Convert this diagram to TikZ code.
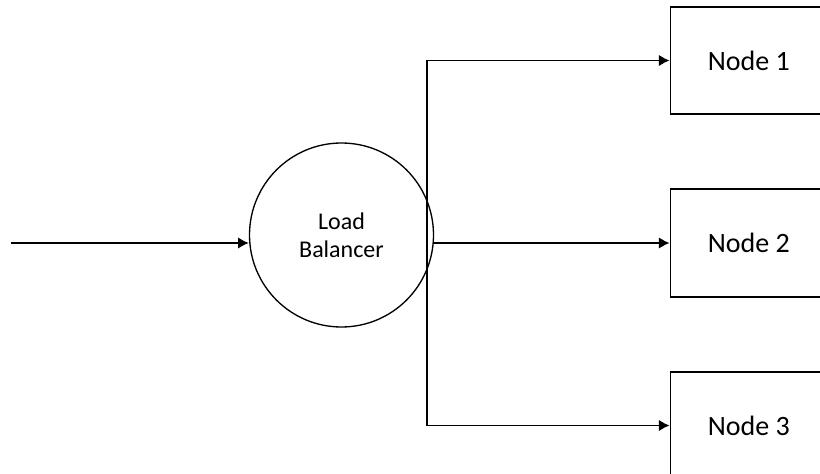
\documentclass[tikz,border=0pt]{standalone}
\usepackage{fontspec}
\setmainfont{Carlito}
\usetikzlibrary{arrows.meta}
\newcommand{\drawarrow}{\draw[-{Latex[length=8pt,width=8.5pt]},line width=1.2pt]}
\newcommand{\drawline}{\draw[line width=1.2pt,line cap=rect]}
\tikzset{
  serverbox/.style={draw,line width=1.3pt,minimum width=117.5pt,minimum height=80.7pt,inner sep=0pt,font=\fontsize{21}{25}\selectfont},
  balancer/.style={draw,circle,line width=1pt,minimum size=138pt,inner sep=0pt,align=center,font=\fontsize{18}{21}\selectfont}
}
\begin{document}
\begin{tikzpicture}[x=0.75pt,y=-0.75pt]
\useasboundingbox (0,0) rectangle (820,474);
\clip (0,0) rectangle (820,474);
\node[balancer] (lb) at (341.5,235) {Load\\Balancer};
\node[serverbox] (n1) at (748.8,60.5) {Node 1};
\node[serverbox] (n2) at (748.8,243) {Node 2};
\node[serverbox] (n3) at (748.8,425.5) {Node 3};
\coordinate (in) at (11,243);
\coordinate (bus) at (426.7,0);
\drawarrow (in) -- (lb.west |- in);
\drawline (bus |- n1.west) -- (bus |- n3.west);
\drawarrow (bus |- n1.west) -- (n1.west);
\drawarrow (lb.east |- n2.west) -- (n2.west);
\drawarrow (bus |- n3.west) -- (n3.west);
\end{tikzpicture}
\end{document}
